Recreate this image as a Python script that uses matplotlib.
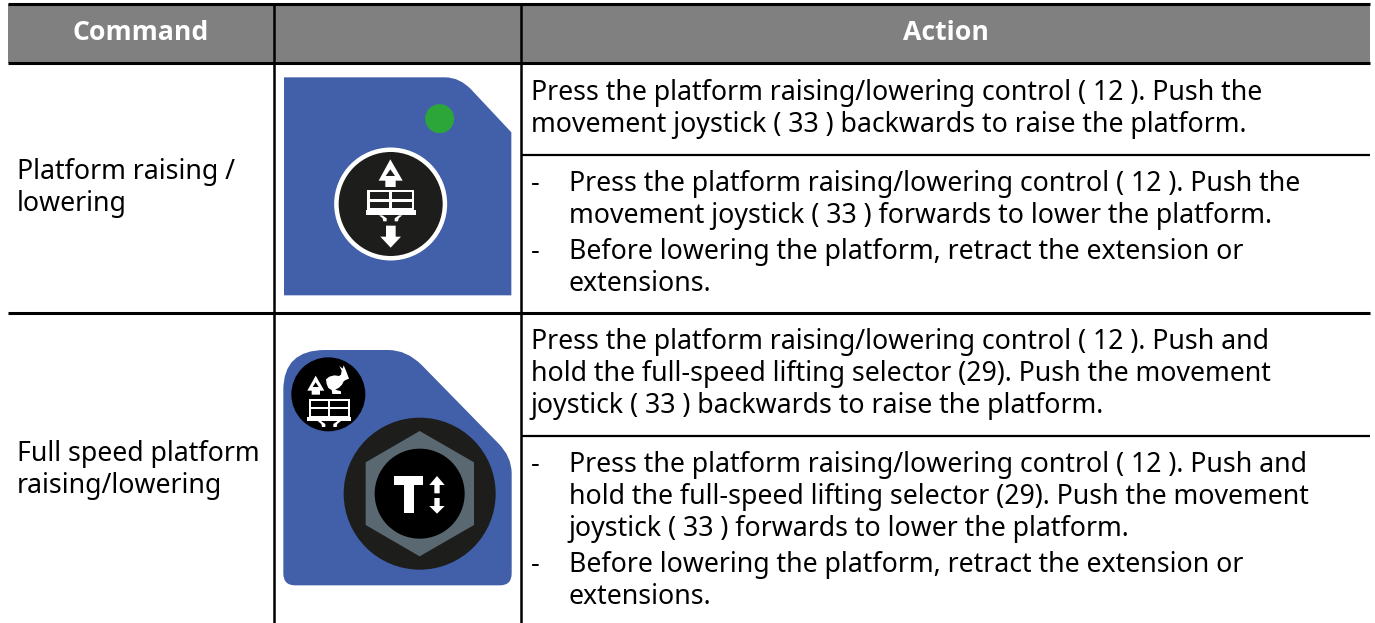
"""
Command / action table with the two control panel icons
"""
import matplotlib
matplotlib.use('Agg')
import matplotlib.pyplot as plt
from matplotlib.patches import Circle, Polygon, PathPatch, Rectangle
from matplotlib.path import Path

headers = ['Command', 'Action']
commands = [['Platform raising /', 'lowering'], ['Full speed platform', 'raising/lowering']]

action_lines = [
    ['Press the platform raising/lowering control ( 12 ). Push the',
     'movement joystick ( 33 ) backwards to raise the platform.'],
    ['Press the platform raising/lowering control ( 12 ). Push the',
     'movement joystick ( 33 ) forwards to lower the platform.'],
    ['Before lowering the platform, retract the extension or',
     'extensions.'],
    ['Press the platform raising/lowering control ( 12 ). Push and',
     'hold the full-speed lifting selector (29). Push the movement',
     'joystick ( 33 ) backwards to raise the platform.'],
    ['Press the platform raising/lowering control ( 12 ). Push and',
     'hold the full-speed lifting selector (29). Push the movement',
     'joystick ( 33 ) forwards to lower the platform.'],
    ['Before lowering the platform, retract the extension or',
     'extensions.'],
]

BLUE = '#4160a9'
GREEN = '#2ca638'
DARK = '#1d1d1b'
FONT = 'Noto Sans'
SIZE = 19.2
RIGHT = 1370

fig = plt.figure(figsize=(13.75, 6.23), dpi=100)
ax = fig.add_axes([0, 0, 1, 1])
ax.set_xlim(0, 1375)
ax.set_ylim(623, 0)
ax.axis('off')


def z1(x, y):
    # first icon zoom crop to page pixels
    return (275 + x / 3, 60 + y / 3)


def z2(x, y):
    # second icon zoom crop to page pixels
    return (275 + x / 3, 340 + y / 3)


def poly(points, conv, color, z=3):
    ax.add_patch(Polygon([conv(*p) for p in points], closed=True, fc=color, ec='none', zorder=z))


def rounded(steps, conv, color, z=2):
    # steps: start point then straight (2 values) or quadratic (4 values) segments
    verts = [conv(*steps[0])]
    codes = [Path.MOVETO]
    for s in steps[1:]:
        if len(s) == 2:
            verts.append(conv(*s))
            codes.append(Path.LINETO)
        else:
            verts += [conv(s[0], s[1]), conv(s[2], s[3])]
            codes += [Path.CURVE3, Path.CURVE3]
    verts.append(verts[0])
    codes.append(Path.CLOSEPOLY)
    ax.add_patch(PathPatch(Path(verts, codes), fc=color, ec='none', zorder=z))


def platform(conv, left, right, top, bot, deck_bot, pane, w=7, z=5):
    # scissor platform: white box, dark panes, deck and two feet
    mx = (left + right) / 2
    mid_y = (top + bot) / 2
    poly([(left, top), (right, top), (right, bot), (left, bot)], conv, 'white', z)
    for x0, x1 in [(left + w, mx - w / 2), (mx + w / 2, right - w)]:
        for y0, y1 in [(top + w, mid_y - w / 2), (mid_y + w / 2, bot - w)]:
            poly([(x0, y0), (x1, y0), (x1, y1), (x0, y1)], conv, pane, z + 1)
    poly([(left - 5, bot - 3), (right + 5, bot - 3), (right + 5, deck_bot), (left - 5, deck_bot)], conv, 'white', z)
    for sign, x in [(1, mx - 35), (-1, mx + 35)]:
        poly([(x, deck_bot), (x + 10 * sign, deck_bot), (x + 23 * sign, deck_bot + 9),
              (x + 23 * sign, deck_bot + 18), (x + 13 * sign, deck_bot + 18), (x + 11 * sign, deck_bot + 9)],
             conv, 'white', z)


# Table header and rules
ax.add_patch(Rectangle((8, 4), RIGHT - 8, 59, fc='#808080', ec='none', zorder=1))
for y in (4, 63, 312.5):
    ax.plot([8, RIGHT], [y, y], color='black', lw=2.2, zorder=8, solid_capstyle='butt')
for y in (154.5, 435.5):
    ax.plot([521, RIGHT], [y, y], color='black', lw=1.6, zorder=8, solid_capstyle='butt')
for x in (274.5, 521):
    ax.plot([x, x], [4, 623], color='black', lw=1.8, zorder=8, solid_capstyle='butt')

ax.text(141, 40, headers[0], color='white', fontsize=SIZE, fontweight='bold', family='Open Sans', ha='center', va='baseline')
ax.text(946, 40, headers[1], color='white', fontsize=SIZE, fontweight='bold', family='Open Sans', ha='center', va='baseline')

# Command column
for lines, ys in zip(commands, [(179, 211), (461, 493)]):
    for line, y in zip(lines, ys):
        ax.text(16.6, y, line, fontsize=SIZE, family=FONT, color='black', ha='left', va='baseline')

# Action column
action_x = [530.8, 568.6, 568.6, 530.8, 568.6, 568.6]
action_y = [100, 191, 259, 349, 472, 572]
dashes = [False, True, True, False, True, True]
for lines, x, y0, dash in zip(action_lines, action_x, action_y, dashes):
    if dash:
        ax.text(530.8, y0, '-', fontsize=SIZE, family=FONT, color='black', ha='left', va='baseline')
    for i, line in enumerate(lines):
        ax.text(x, y0 + i * 32, line, fontsize=SIZE, family=FONT, color='black', ha='left', va='baseline')

# Icon 1: raise / lower button
rounded([(27, 52), (510, 52), (555, 52, 590, 90), (709, 217), (709, 706), (27, 706)], z1, BLUE)
ax.add_patch(Circle(z1(494, 176), 14.5, fc=GREEN, ec='none', zorder=3))
ax.add_patch(Circle(z1(347, 432), 56.5, fc='white', ec='none', zorder=3))
ax.add_patch(Circle(z1(347, 432), 52, fc=DARK, ec='none', zorder=4))
poly([(346, 298), (383, 362), (362, 362), (362, 381), (331, 381), (331, 362), (311, 362)], z1, 'white', 5)
poly([(346, 328), (360, 348), (332, 348)], z1, DARK, 6)
platform(z1, 277, 417, 390, 452, 466, DARK)
poly([(333, 497), (362, 497), (362, 530), (378, 530), (347, 563), (316, 530), (333, 530)], z1, 'white', 5)

# Icon 2: full speed button
rounded([(25, 150), (25, 30, 150, 30), (340, 30), (395, 30, 440, 75), (670, 310), (710, 350, 710, 400),
         (710, 700), (710, 736, 675, 736), (60, 736), (25, 736, 25, 700)], z2, BLUE)
ax.add_patch(Circle(z2(160, 163), 37, fc='black', ec='none', zorder=3))
ax.add_patch(Circle(z2(434, 461), 76, fc=DARK, ec='none', zorder=3))
poly([(434, 273), (597, 367), (597, 555), (434, 649), (272, 555), (272, 367)], z2, '#5a6971', 4)
ax.add_patch(Circle(z2(434, 461), 45, fc='black', ec='none', zorder=5))
poly([(358, 408), (445, 408), (445, 435), (416, 435), (416, 520), (388, 520), (388, 435), (358, 435)], z2, 'white', 6)
poly([(486, 408), (509, 435), (494, 435), (494, 460), (478, 460), (478, 435), (463, 435)], z2, 'white', 6)
poly([(478, 474), (494, 474), (494, 498), (509, 498), (486, 521), (463, 498), (478, 498)], z2, 'white', 6)
poly([(122, 107), (148, 152), (135, 152), (135, 164), (110, 164), (110, 152), (97, 152)], z2, 'white', 6)
poly([(122, 127), (131, 141), (113, 141)], z2, 'black', 7)
platform(z2, 102, 224, 177, 233, 243, 'black', w=6, z=6)
# rabbit
poly([(153, 118), (163, 110), (178, 106), (192, 108), (198, 104), (200, 92), (193, 78), (203, 86), (206, 76),
      (213, 92), (222, 116), (212, 120), (206, 124), (201, 134), (192, 143), (181, 149), (198, 154), (198, 162),
      (172, 162), (170, 150), (160, 144), (155, 132)], z2, 'white', 6)

plt.savefig('out.png', dpi=100)
